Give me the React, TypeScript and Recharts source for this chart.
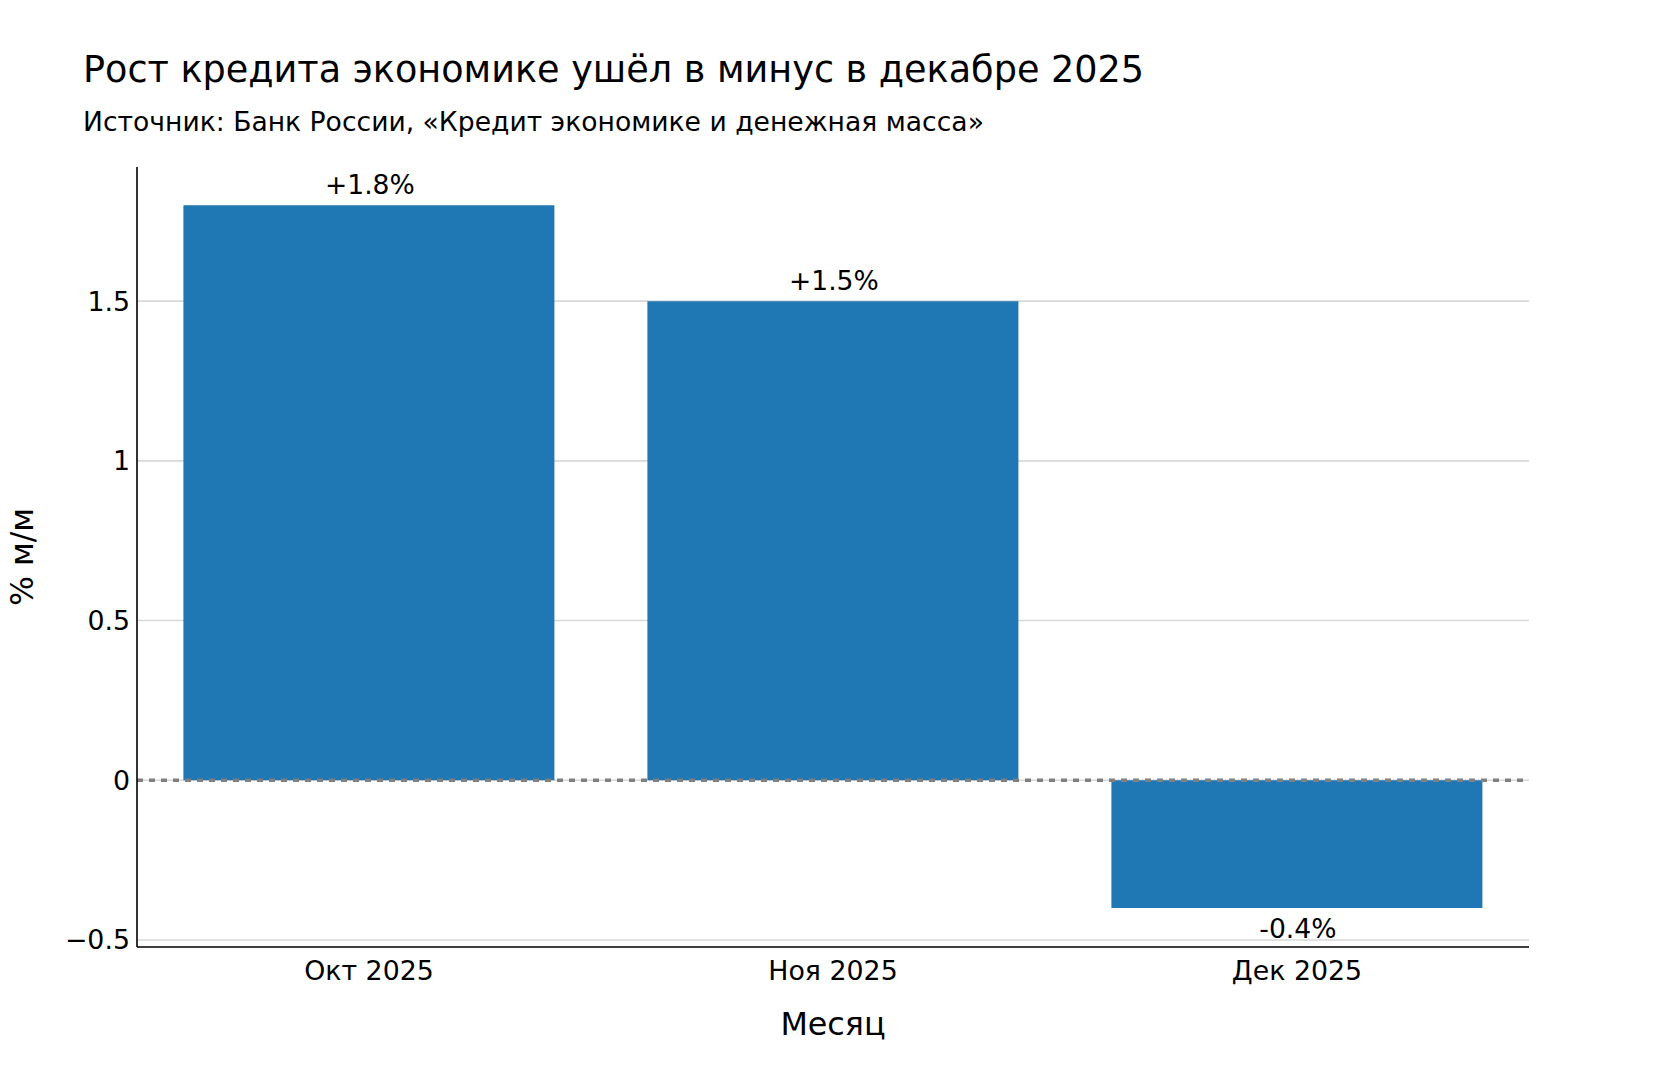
import React from 'react';
import { BarChart, Bar, XAxis, YAxis, CartesianGrid, ReferenceLine, LabelList, Label } from 'recharts';

const FONT = '"DejaVu Sans", sans-serif';

const months: string[] = ['Окт 2025', 'Ноя 2025', 'Дек 2025'];
const growth: number[] = [1.8, 1.5, -0.4];
const yTicks: number[] = [-0.5, 0, 0.5, 1, 1.5];
const yDomain: [number, number] = [-0.522, 1.92];

const title = 'Рост кредита экономике ушёл в минус в декабре 2025';
const subtitle = 'Источник: Банк России, «Кредит экономике и денежная масса»';
const xLabel = 'Месяц';
const yLabel = '% м/м';

const data = months.map((m, i) => ({ month: m, value: growth[i] }));

const fmtTick = (v: number) => (v < 0 ? '\u2212' + Math.abs(v) : String(v));

const renderValueLabel = (props: any) => {
  const x = Number(props.x);
  const y = Number(props.y);
  const w = Number(props.width);
  const h = Number(props.height);
  const value = Number(props.value);
  const top = Math.min(y, y + h);
  const bottom = Math.max(y, y + h);
  const text = value > 0 ? `+${value.toFixed(1)}%` : `${value.toFixed(1)}%`;
  const ty = value >= 0 ? top - 11 : bottom + 30;
  return (
    <text x={x + w / 2 + 1} y={ty} textAnchor="middle" fontSize={26.6} fill="#000" fontFamily={FONT}>
      {text}
    </text>
  );
};

const renderYLabel = (props: any) => {
  const vb = props.viewBox || { x: 0, y: 167, width: 137, height: 780 };
  const cx = vb.x + 33;
  const cy = vb.y + vb.height / 2;
  return (
    <text x={cx} y={cy} transform={`rotate(-90, ${cx}, ${cy})`} textAnchor="middle" fontSize={31.5} fill="#000" fontFamily={FONT}>
      {yLabel}
    </text>
  );
};

const renderXLabel = (props: any) => {
  const vb = props.viewBox || { x: 137, y: 947, width: 1392, height: 133 };
  return (
    <text x={vb.x + vb.width / 2} y={vb.y + 88} textAnchor="middle" fontSize={31.8} fill="#000" fontFamily={FONT}>
      {xLabel}
    </text>
  );
};

const gridGenerator = (props: any) => {
  const scale = props?.yAxis?.scale;
  if (scale && typeof scale === 'function') {
    return yTicks.map((t) => scale(t));
  }
  if (scale && typeof scale.map === 'function') {
    return yTicks.map((t) => scale.map(t));
  }
  return [];
};

export default function App() {
  return (
    <div style={{ position: 'absolute', left: 0, top: 0, width: 1662, height: 1080, background: '#fff' }}>
      <svg width={1662} height={150} style={{ position: 'absolute', left: 0, top: 0 }}>
        <text x={83} y={82} fontSize={36.6} fill="#000" fontFamily={FONT}>{title}</text>
        <text x={83} y={131} fontSize={26.6} fill="#000" fontFamily={FONT}>{subtitle}</text>
      </svg>
      <div style={{ position: 'absolute', left: 0, top: 0 }}>
        <BarChart
          width={1662}
          height={1080}
          data={data}
          margin={{ top: 167, right: 133, bottom: 0, left: 0 }}
          barCategoryGap="10%"
          style={{ fontFamily: FONT }}
        >
          <CartesianGrid
            vertical={false}
            stroke="#d8d8d8"
            strokeWidth={1.6}
            horizontalCoordinatesGenerator={gridGenerator}
          />
          <XAxis
            dataKey="month"
            height={133}
            tickSize={0}
            tickMargin={14}
            tickLine={false}
            axisLine={{ stroke: '#000', strokeWidth: 1.6 }}
            tick={{ fontSize: 26.8, fill: '#000', fontFamily: FONT }}
            interval={0}
          >
            <Label content={renderXLabel} />
          </XAxis>
          <YAxis
            width={137}
            domain={yDomain}
            ticks={yTicks}
            allowDataOverflow
            tickSize={0}
            tickMargin={7}
            tickLine={false}
            tickFormatter={fmtTick}
            axisLine={{ stroke: '#000', strokeWidth: 1.6 }}
            tick={{ fontSize: 26.8, fill: '#000', fontFamily: FONT }}
          >
            <Label content={renderYLabel} />
          </YAxis>
          <Bar dataKey="value" fill="#1f77b4" isAnimationActive={false}>
            <LabelList dataKey="value" content={renderValueLabel} />
          </Bar>
          <ReferenceLine y={0} stroke="#808080" strokeWidth={3.5} strokeDasharray="6 6" />
        </BarChart>
      </div>
    </div>
  );
}
